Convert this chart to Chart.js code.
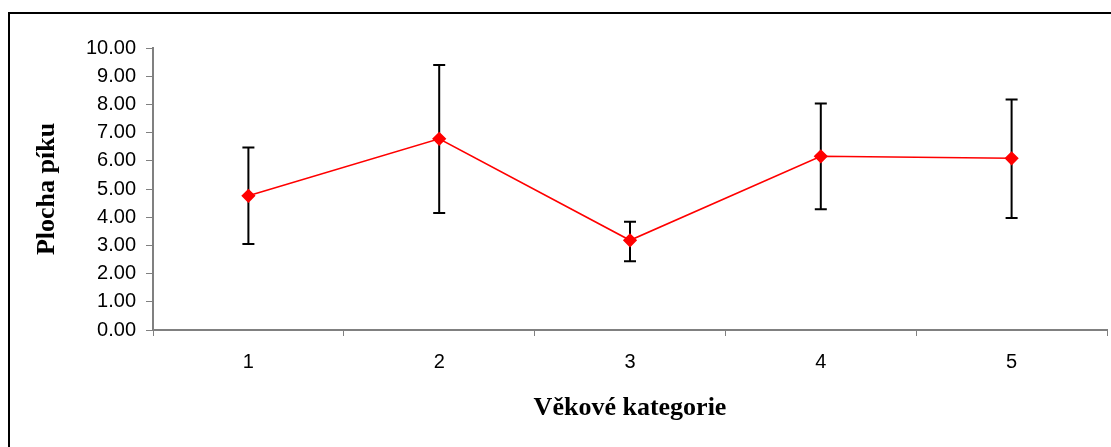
<!DOCTYPE html>
<html>
<head>
<meta charset="utf-8">
<script src="https://cdn.jsdelivr.net/npm/chart.js@4.4.1/dist/chart.umd.min.js"></script>
<style>
  html, body { margin: 0; padding: 0; background: #fff; overflow: hidden; }
  #frame { position: absolute; left: 8px; top: 12px; width: 1120px; height: 460px;
           border: 2px solid #000; box-sizing: border-box; }
  #wrap { position: absolute; left: 0; top: 0; width: 1111px; height: 447px; }
</style>
</head>
<body>
<div id="frame"></div>
<div id="wrap"><canvas id="chart" width="1111" height="447"></canvas></div>
<script>
// ── data ────────────────────────────────────────────────────
const categories = ["1", "2", "3", "4", "5"];
const means      = [4.76, 6.78, 3.18, 6.16, 6.09];
const errHigh    = [6.47, 9.40, 3.84, 8.03, 8.17];
const errLow     = [3.05, 4.15, 2.44, 4.28, 3.97];
const yTicks     = [0, 1, 2, 3, 4, 5, 6, 7, 8, 9, 10];

// ── error bars drawn through the scales ─────────────────────
const errorBars = {
    id: "errorBars",
    beforeDatasetsDraw(chart) {
        const { ctx, scales: { x, y } } = chart;
        ctx.save();
        ctx.strokeStyle = "#000";
        ctx.lineWidth = 2;
        categories.forEach((c, i) => {
            const px  = x.getPixelForValue(i);
            const top = y.getPixelForValue(errHigh[i]);
            const bot = y.getPixelForValue(errLow[i]);
            ctx.beginPath();
            ctx.moveTo(px, top); ctx.lineTo(px, bot);
            ctx.moveTo(px - 6, top); ctx.lineTo(px + 6, top);
            ctx.moveTo(px - 6, bot); ctx.lineTo(px + 6, bot);
            ctx.stroke();
        });
        ctx.restore();
    }
};

const tickFont  = { family: "'Liberation Sans', Arial, sans-serif", size: 20 };
const titleFont = { family: "'Liberation Serif', 'Times New Roman', serif", size: 26, weight: "bold" };

new Chart(document.getElementById("chart"), {
    type: "line",
    data: {
        labels: categories,
        datasets: [{
            data: means,
            borderColor: "#ff0000",
            backgroundColor: "#ff0000",
            borderWidth: 1.6,
            pointStyle: "rectRot",
            pointRadius: 6,
            pointHoverRadius: 6,
            tension: 0
        }]
    },
    options: {
        responsive: false,
        animation: false,
        events: [],
        layout: { autoPadding: false, padding: { left: 0, top: 48, right: 4, bottom: 0 } },
        plugins: { legend: { display: false }, tooltip: { enabled: false } },
        scales: {
            x: {
                offset: true,
                grid: { offset: true, drawOnChartArea: false, drawTicks: true, tickLength: 6, color: "#808080", lineWidth: 1 },
                border: { color: "#808080", width: 2 },
                ticks: { font: tickFont, color: "#000", padding: 14, maxRotation: 0 },
                title: { display: true, text: "Věkové kategorie", font: titleFont, color: "#000", padding: { top: 0, bottom: 23 } },
                afterFit(s) { s.height = 117; s.paddingRight = 0; }
            },
            y: {
                min: 0,
                max: 10,
                afterBuildTicks(s) { s.ticks = yTicks.map(v => ({ value: v })); },
                grid: { drawOnChartArea: false, drawTicks: true, tickLength: 7, color: "#808080", lineWidth: 1 },
                border: { color: "#808080", width: 2 },
                ticks: { font: tickFont, color: "#000", padding: 10, callback: v => Number(v).toFixed(2) },
                title: { display: true, text: "Plocha píku", font: titleFont, color: "#000", padding: { top: 32, bottom: 0 } },
                afterFit(s) { s.width = 153; }
            }
        }
    },
    plugins: [errorBars]
});
</script>
</body>
</html>
